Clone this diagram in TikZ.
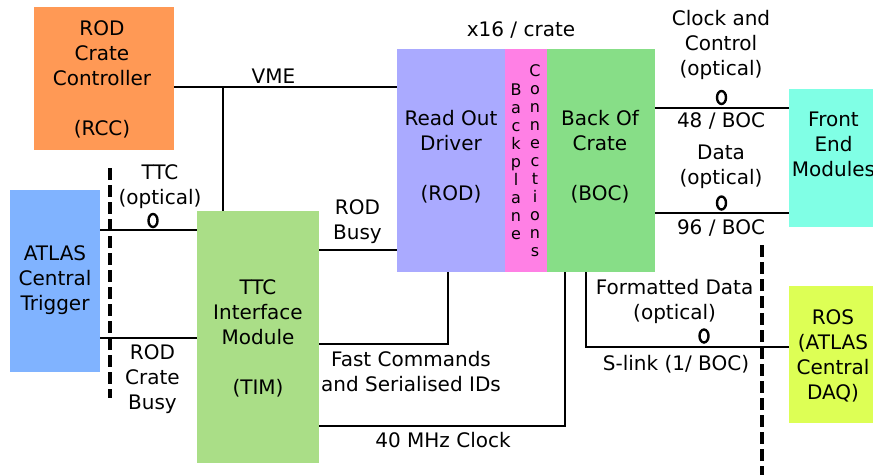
\documentclass[tikz,border=0pt]{standalone}
\usepackage{fontspec}
\setmainfont{DejaVu Sans}
\usetikzlibrary{shapes.geometric}
\definecolor{crcc}{HTML}{FF9955}
\definecolor{cact}{HTML}{80B3FF}
\definecolor{ctim}{HTML}{AADE87}
\definecolor{crod}{HTML}{AAAAFF}
\definecolor{cbpl}{HTML}{FF80E5}
\definecolor{cboc}{HTML}{87DE87}
\definecolor{cfem}{HTML}{80FFE5}
\definecolor{cros}{HTML}{DDFF55}
\begin{document}
\begin{tikzpicture}[x=1pt,y=-1pt,
  box/.style={draw=none,inner sep=0pt,outer sep=0pt,rectangle},
  lbl/.style={inner sep=0pt,outer sep=0pt,align=center,font=\fontsize{20}{25}\selectfont},
  vlbl/.style={inner sep=0pt,outer sep=0pt,align=center,font=\fontsize{16}{18}\selectfont},
  wire/.style={line width=2.3pt},
  fence/.style={line width=3.5pt,dash pattern=on 12pt off 5pt},
  optic/.style={draw,ellipse,line width=2.4pt,minimum width=9pt,minimum height=13pt,inner sep=0pt,outer sep=0pt}]
\useasboundingbox (0,0) rectangle (873,474);
% boxes
\node[box,fill=crcc,minimum width=140pt,minimum height=143pt] (rcc) at (104,78.5) {};
\node[box,fill=cact,minimum width=90pt,minimum height=182pt] (act) at (55,281) {};
\node[box,fill=ctim,minimum width=122pt,minimum height=252pt] (tim) at (258,337) {};
\node[box,fill=crod,minimum width=108pt,minimum height=223pt] (rod) at (451,160.5) {};
\node[box,fill=cbpl,minimum width=42pt,minimum height=223pt] (bpl) at (526,160.5) {};
\node[box,fill=cboc,minimum width=108pt,minimum height=223pt] (boc) at (601,160.5) {};
\node[box,fill=cfem,minimum width=91pt,minimum height=138pt] (fem) at (834.5,158) {};
\node[box,fill=cros,minimum width=91pt,minimum height=137pt] (ros) at (834.5,354.5) {};
% routing coordinates
\coordinate (yvme) at (0,87);
\coordinate (xdrop) at (223,0);
\coordinate (yttc) at (0,230);
\coordinate (ybusy) at (0,338);
\coordinate (yrb) at (0,250);
\coordinate (yfc) at (0,344);
\coordinate (xfc) at (448,0);
\coordinate (y40) at (0,426);
\coordinate (x40) at (565,0);
\coordinate (xsl) at (586,0);
\coordinate (ysl) at (0,347);
\coordinate (ycc) at (0,108);
\coordinate (yda) at (0,213);
\coordinate (f1a) at (110,168);
\coordinate (f1b) at (110,398);
\coordinate (f2a) at (762,245);
\coordinate (f2b) at (762,480);
% connectors
\draw[wire] (rcc.east |- yvme) -- (rod.west |- yvme);
\draw[wire] (xdrop |- yvme) -- (tim.north -| xdrop);
\draw[wire] (act.east |- yttc) -- (tim.west |- yttc);
\draw[wire] (act.east |- ybusy) -- (tim.west |- ybusy);
\draw[wire] (tim.east |- yrb) -- (rod.west |- yrb);
\draw[wire] (tim.east |- yfc) -| (rod.south -| xfc);
\draw[wire] (tim.east |- y40) -| (boc.south -| x40);
\draw[wire] (boc.south -| xsl) |- (ros.west |- ysl);
\draw[wire] (boc.east |- ycc) -- (fem.west |- ycc);
\draw[wire] (boc.east |- yda) -- (fem.west |- yda);
\draw[fence] (f1a) -- (f1b);
\draw[fence] (f2a) -- (f2b);
% optical markers
\node[optic] (o1) at (153,220.5) {};
\node[optic] (o2) at (721.5,97.5) {};
\node[optic] (o3) at (721.5,203) {};
\node[optic] (o4) at (704,336) {};
% box texts
\node[lbl] (trcc) at (102,79) {ROD\\Crate\\Controller\\[25pt](RCC)};
\node[lbl] (tact) at (55,280) {ATLAS\\Central\\Trigger};
\node[lbl] (ttim) at (258,338.5) {TTC\\Interface\\Module\\[25pt](TIM)};
\node[lbl] (trod) at (451,156.5) {Read Out\\Driver\\[25pt](ROD)};
\node[lbl] (tboc) at (600,156.5) {Back Of\\Crate\\[25pt](BOC)};
\node[lbl] (tfem) at (833.5,144.7) {Front\\End\\Modules};
\node[lbl] (tros) at (833,355.5) {ROS\\(ATLAS\\Central\\DAQ)};
\node[vlbl] (tbp1) at (516,161.5) {B\\a\\c\\k\\p\\l\\a\\n\\e};
\node[vlbl] (tbp2) at (535,161) {C\\o\\n\\n\\e\\c\\t\\i\\o\\n\\s};
% labels
\node[lbl] (lvme) at (273.5,76) {VME};
\node[lbl] (lx16) at (521,30.5) {x16 / crate};
\node[lbl] (lttc) at (160,186.5) {TTC\\(optical)};
\node[lbl] (lrcb) at (152.5,379) {ROD\\Crate\\Busy};
\node[lbl] (lrb) at (357.5,221.7) {ROD\\Busy};
\node[lbl] (lfc) at (411,372) {Fast Commands\\and Serialised IDs};
\node[lbl] (l40) at (443,440) {40 MHz Clock};
\node[lbl] (lcc) at (721,45.3) {Clock and\\Control\\(optical)};
\node[lbl] (l48) at (721,121.5) {48 / BOC};
\node[lbl] (lda) at (721,166.7) {Data\\(optical)};
\node[lbl] (l96) at (721,228.5) {96 / BOC};
\node[lbl] (lfd) at (674.6,301) {Formatted Data\\(optical)};
\node[lbl] (lsl) at (676,364) {S-link (1/ BOC)};
\end{tikzpicture}
\end{document}
